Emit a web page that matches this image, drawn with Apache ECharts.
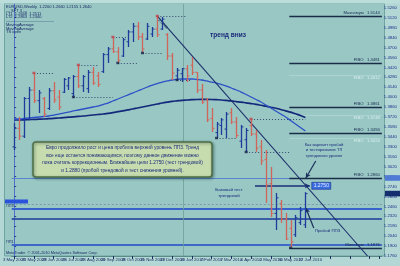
<!DOCTYPE html>
<html>
<head>
<meta charset="utf-8">
<script src="https://cdn.jsdelivr.net/npm/echarts@6/dist/echarts.min.js"></script>
<style>
html,body{margin:0;padding:0;background:#b2d7d4;}
#c{width:400px;height:266px;}
</style>
</head>
<body>
<div id="c"></div>
<script>
// EURUSD weekly bars, 3 May 2009 .. June 2010
const opens = [1.3300,1.3560,1.3450,1.3980,1.4100,1.3950,1.3980,1.3840,1.4090,1.4000,
1.4070,1.4160,1.4050,1.4290,1.4160,1.4120,1.4350,1.4300,1.4360,1.4600,
1.4680,1.4640,1.4580,1.4780,1.4920,1.5000,1.4850,1.4820,1.4890,1.4960,
1.4960,1.4880,1.4580,1.4300,1.4330,1.4400,1.4450,1.4350,1.4100,1.3960,
1.3700,1.3500,1.3600,1.3550,1.3780,1.3650,1.3380,1.3400,1.3600,1.3480,
1.3300,1.3120,1.2780,1.2360,1.2500,1.2280,1.2150,1.2060,1.2230,1.2200];
const highs = [1.3636,1.3720,1.4002,1.4143,1.4341,1.4101,1.4002,1.4129,1.4214,1.4101,
1.4270,1.4284,1.4312,1.4454,1.4312,1.4383,1.4425,1.4355,1.4623,1.4707,
1.4848,1.4707,1.4834,1.4947,1.5046,1.5060,1.4905,1.5046,1.4989,1.5144,
1.5130,1.4905,1.4623,1.4411,1.4411,1.4454,1.4566,1.4355,1.4186,1.3988,
1.3847,1.3650,1.3706,1.3791,1.3847,1.3720,1.3608,1.3565,1.3692,1.3537,
1.3396,1.3255,1.3015,1.2649,1.2550,1.2367,1.2268,1.2339,1.2452,1.2660];
const lows = [1.3255,1.3396,1.3424,1.3678,1.3918,1.3777,1.3720,1.3819,1.3918,1.3819,
1.4059,1.4101,1.4002,1.4129,1.4073,1.4059,1.4172,1.4143,1.4341,1.4482,
1.4623,1.4482,1.4566,1.4707,1.4778,1.4806,1.4623,1.4806,1.4848,1.4848,
1.4947,1.4524,1.4242,1.4242,1.4214,1.4214,1.4312,1.4059,1.3904,1.3650,
1.3509,1.3424,1.3467,1.3424,1.3622,1.3424,1.3283,1.3227,1.3452,1.3227,
1.3044,1.2508,1.2310,1.2127,1.2226,1.1986,1.1876,1.2029,1.2198,1.2155];
const closes = [1.3560,1.3450,1.3980,1.4100,1.3950,1.4060,1.3760,1.4090,1.3960,1.3860,
1.4250,1.4270,1.4290,1.4160,1.4290,1.4350,1.4200,1.4180,1.4600,1.4680,
1.4640,1.4520,1.4810,1.4920,1.5000,1.4850,1.4680,1.5000,1.4960,1.4880,
1.5100,1.4580,1.4340,1.4380,1.4400,1.4300,1.4350,1.4100,1.3930,1.3680,
1.3560,1.3620,1.3680,1.3760,1.3650,1.3460,1.3580,1.3530,1.3480,1.3280,
1.3100,1.2760,1.2360,1.2580,1.2280,1.2000,1.1960,1.2300,1.2400,1.2640];

// moving averages (fast / slow)
const maFast = [1.3692,1.3692,1.3699,1.3706,1.3713,1.3720,1.3727,1.3734,1.3748,1.3762,
1.3776,1.3790,1.3805,1.3819,1.3833,1.3847,1.3861,1.3875,1.3896,1.3917,
1.3946,1.3974,1.4002,1.4030,1.4058,1.4087,1.4115,1.4143,1.4171,1.4192,
1.4213,1.4228,1.4242,1.4249,1.4256,1.4256,1.4256,1.4249,1.4242,1.4228,
1.4213,1.4199,1.4178,1.4157,1.4129,1.4101,1.4072,1.4037,1.4002,1.3967,
1.3931,1.3889,1.3847,1.3805,1.3762,1.3720,1.3671,1.3621,1.3572,1.3523];
const maSlow = [1.3678,1.3678,1.3680,1.3683,1.3686,1.3689,1.3692,1.3696,1.3700,1.3706,
1.3711,1.3717,1.3723,1.3728,1.3734,1.3741,1.3748,1.3755,1.3762,1.3772,
1.3783,1.3795,1.3807,1.3820,1.3833,1.3847,1.3861,1.3875,1.3889,1.3903,
1.3917,1.3929,1.3940,1.3948,1.3955,1.3960,1.3964,1.3967,1.3968,1.3968,
1.3967,1.3964,1.3960,1.3954,1.3947,1.3938,1.3930,1.3920,1.3910,1.3899,
1.3886,1.3872,1.3858,1.3843,1.3826,1.3807,1.3788,1.3765,1.3741,1.3713];

// date ticks, one every 4 weeks
const dateTicks = ['3 May 2009','31 May 2009','28 Jun 2009','26 Jul 2009','23 Aug 2009',
'20 Sep 2009','18 Oct 2009','15 Nov 2009','13 Dec 2009','10 Jan 2010','7 Feb 2010',
'7 Mar 2010','4 Apr 2010','2 May 2010','30 May 2010','27 Jun 2010'];
const slotCount = 75;

// drawn objects
const trendLine = [[29, 1.5144], [71.6, 1.1760]];
const yearSeparator = 34.3;
const fullLevels = [1.2860, 1.2494, 1.2430, 1.2282, 1.1916];
const fiboStart = 55.75;
const fiboDark = [1.5144, 1.4481, 1.3861, 1.3494, 1.2860, 1.1876];
const fiboDarkNames = ['Максимум', 'FIBO', 'FIBO', 'FIBO', 'FIBO', 'Минимум'];
const fiboLight = [1.4312, 1.3748, 1.3424];
const fractalHighs = [4, 13, 20, 29, 48];
const fractalLows = [12, 21, 26, 33, 41, 47, 56];
const dottedSegments = [[4,8,1.4341],[12,20,1.4002],[13,17,1.4454],[20,23,1.4848],[21,25,1.4482],
  [26,30,1.4623],[29,35,1.5144],[33,36,1.4242],[41,45,1.3424],[47,56,1.3227],[48,59,1.3692]];
const testTarget = 1.2750;
const testArrow = [48.8, 59.9];
const breakArrow = [[60.7, 1.2155], [59.1, 1.2437]];
const upperArrow = [[61.1, 1.3100], [59.1, 1.2860]];

const UP = '#1f3c9c', DOWN = '#d2655a';
const FONT = 'Liberation Sans, Arial, sans-serif';
const N = opens.length;
const last = N - 1;

const ohlc = opens.map((o, i) => [i, o, highs[i], lows[i], closes[i]]);
const categories = Array.from({length: slotCount}, (_, k) => k % 4 === 0 ? (dateTicks[k / 4] || '') : '');

const fullStyles = [
  {color:'#4a72d2', width:0.8, type:'solid'},
  {color:'#7d98ac', width:1, type:[2,2]},
  {color:'#3a62cc', width:2, type:'solid'},
  {color:'#1d3a9a', width:1.5, type:'solid'},
  {color:'#4068c8', width:1.8, type:'solid'}
];

const levelMarks = [];
fullLevels.forEach((v, k) => {
  levelMarks.push([{coord:[-0.5, v], lineStyle: fullStyles[k]}, {coord:[74.5, v]}]);
});
fiboDark.forEach((v, k) => {
  levelMarks.push([{coord:[fiboStart, v], lineStyle:{color:'#1a2d48', width:1.3, type:'solid'},
    label:{show:true, position:'insideEndTop', formatter: fiboDarkNames[k] + '   ' + v.toFixed(4),
      fontSize:4.2, color:'#1a2a50', fontFamily:FONT, distance:[2,1]}}, {coord:[74.5, v]}]);
});
fiboLight.forEach(v => {
  levelMarks.push([{coord:[fiboStart, v], lineStyle:{color:'#b9dcd9', width:0.6, type:'solid'},
    label:{show:true, position:'insideEndBottom', formatter: 'FIBO   ' + v.toFixed(4),
      fontSize:4.2, color:'#dcefed', fontFamily:FONT, distance:[2,1]}}, {coord:[74.5, v]}]);
});
dottedSegments.forEach(s => {
  levelMarks.push([{coord:[s[0], s[2]], lineStyle:{color:'#34486e', width:1, type:[1,2]}}, {coord:[s[1], s[2]]}]);
});
levelMarks.push([{coord:[yearSeparator, 1.176], lineStyle:{color:'#6f9e9b', width:0.8, type:'solid'}},
  {coord:[yearSeparator, 1.537]}]);
// annotation arrows
levelMarks.push([{coord:[testArrow[0], testTarget], symbol:'none', lineStyle:{color:'#1a2f7a', width:1.5, type:'solid'}},
  {coord:[testArrow[1], testTarget], symbol:'arrow', symbolSize:[4,5]}]);
levelMarks.push([{coord:breakArrow[0], symbol:'none', lineStyle:{color:'#1a2f5a', width:1.2, type:'solid'}},
  {coord:breakArrow[1], symbol:'arrow', symbolSize:[4,5]}]);
levelMarks.push([{coord:upperArrow[0], symbol:'none', lineStyle:{color:'#1a2f5a', width:1.2, type:'solid'}},
  {coord:upperArrow[1], symbol:'arrow', symbolSize:[4,5]}]);

const chart = echarts.init(document.getElementById('c'), null, {renderer:'canvas', width:400, height:266});

const option = {
  animation: false,
  backgroundColor: '#b2d7d4',
  grid: {left: 6.5, right: 15.5, top: 0, bottom: 10, containLabel: false},
  xAxis: [
    {type:'value', min:-0.5, max:74.5, show:false},
    {type:'category', data: categories, boundaryGap: true, position:'bottom',
      axisLine:{show:true, lineStyle:{color:'#5b8b88', width:1}},
      axisTick:{show:true, interval:3, alignWithLabel:true, length:3, lineStyle:{color:'#1c2f5e'}},
      axisLabel:{interval:0, fontSize:4.3, color:'#1c2f66', margin:2, fontFamily:FONT},
      splitLine:{show:false}}
  ],
  yAxis: {
    type:'value', position:'right', min:1.176, max:1.537, interval:0.014, scale:true,
    axisLine:{show:true, lineStyle:{color:'#4f72c8', width:1}},
    axisTick:{show:true, length:2, lineStyle:{color:'#2a4690'}},
    axisLabel:{fontSize:4.3, color:'#1c2f8a', margin:2, fontFamily:FONT,
      formatter: v => v > 1.53 ? '' : v.toFixed(4)},
    splitLine:{show:false}
  },
  series: [
    {
      name:'levels', type:'line', xAxisIndex:0, data:[], silent:true,
      markLine:{silent:true, symbol:['none','none'], label:{show:false}, data: levelMarks, z:3}
    },
    {
      name:'maSlow', type:'line', xAxisIndex:0, showSymbol:false, smooth:true,
      data: maSlow.map((v, i) => [i, v]), lineStyle:{color:'#13287a', width:1.7}, z:3
    },
    {
      name:'maFast', type:'line', xAxisIndex:0, showSymbol:false, smooth:true,
      data: maFast.map((v, i) => [i, v]), lineStyle:{color:'#2c50c6', width:1.3}, z:3
    },
    {
      name:'trend', type:'line', xAxisIndex:0, showSymbol:false,
      data: trendLine, lineStyle:{color:'#1b2e6a', width:1.1}, z:4
    },
    {
      name:'bars', type:'custom', xAxisIndex:0, data: ohlc, z:5,
      encode:{x:0, y:[1,2,3,4]},
      renderItem: function (params, api) {
        const i = api.value(0);
        const o = api.coord([i, api.value(1)]);
        const h = api.coord([i, api.value(2)]);
        const l = api.coord([i, api.value(3)]);
        const c = api.coord([i, api.value(4)]);
        const col = api.value(4) >= api.value(1) ? UP : DOWN;
        const x = Math.round(h[0]) + 0.5;
        return {type:'group', children:[
          {type:'line', shape:{x1:x, y1:h[1], x2:x, y2:l[1]}, style:{stroke:col, lineWidth:1.3}},
          {type:'line', shape:{x1:x-2, y1:o[1], x2:x, y2:o[1]}, style:{stroke:col, lineWidth:1}},
          {type:'line', shape:{x1:x, y1:c[1], x2:x+2, y2:c[1]}, style:{stroke:col, lineWidth:1}}
        ]};
      }
    },
    {
      name:'fractalHigh', type:'scatter', xAxisIndex:0, symbol:'rect', symbolSize:[3,2.5], z:6,
      data: fractalHighs.map(i => [i, highs[i]]), itemStyle:{color:'#c0404a'}
    },
    {
      name:'fractalLow', type:'scatter', xAxisIndex:0, symbol:'rect', symbolSize:[3,2.5], z:6,
      data: fractalLows.map(i => [i, lows[i]]), itemStyle:{color:'#1a2448'}
    }
  ]
};
chart.setOption(option);

// annotations
const px = p => chart.convertToPixel({xAxisIndex:0, yAxisIndex:0}, p);
const txt = (x, y, s, size, color, extra) => Object.assign({type:'text', x, y, z:120,
  style:Object.assign({text:s, fontSize:size, fill:color, fontFamily:FONT, textVerticalAlign:'middle'}, extra || {})});

const g = [];
// plot area
g.push({type:'rect', shape:{x:4.5, y:3.5, width:380, height:252.5}, z:-100,
  style:{fill:'#98c7c4', stroke:'#6fa3a0', lineWidth:1}});
g.push({type:'rect', shape:{x:0, y:0, width:400, height:3.5}, z:200, style:{fill:'#bcdedb'}});

// legend lines
const legendLines = [
  'EURUSD,Weekly  ' + [opens[last], highs[last], lows[last], closes[last]].map(v => v.toFixed(4)).join(' '),
  '— SFT 3 —',
  'LT1  1.2648  1.2511',
  'LT2  1.2863  1.2340',
  '————————————',
  'MovingAverage',
  'MovingAverage',
  'TS open'
];
[7, 10.5, 13.5, 16.5, 20.5, 25, 28.5, 32].forEach((y, k) => g.push(txt(6, y, legendLines[k], 4, '#1a2a66')));

// trend caption
g.push(txt(228, 35, 'тренд вниз', 6.5, '#1a2a7a', {textAlign:'center', fontWeight:'bold'}));
const t0 = px(trendLine[0]);
g.push({type:'text', x:t0[0] + 3, y:t0[1] + 2, rotation:-0.84, z:120,
  style:{text:'1.5144', fontSize:4, fill:'#1a2a66', fontFamily:FONT}});

// comment box
g.push({type:'rect', shape:{x:33, y:142, width:179, height:35, r:3}, z:110,
  style:{fill:'#c7dcae', stroke:'#4e6e44', lineWidth:1.5, shadowBlur:3, shadowColor:'rgba(0,40,30,0.45)', shadowOffsetX:1, shadowOffsetY:1}});
const boxLines = [
  'Евро продолжило рост и цена пробила верхний уровень ПП3. Тренд',
  'все еще остается понижающимся, поэтому данное движение можно',
  'пока считать коррекционным. Ближайшие цели 1.2750 (тест трендовой)',
  'и 1.2880 (пробой трендовой и тест снижения уровней).'
];
boxLines.forEach((s, k) => g.push(txt(122.5, 148 + k * 7.4, s, 4.8, '#1b2b7c', {textAlign:'center'})));

// right-side notes
['Как вариант пробой', 'и тестирование ТЛ', 'трендового уровня'].forEach((s, k) =>
  g.push(txt(324, 145 + k * 5.2, s, 4.2, '#1b2b7c', {textAlign:'center'})));
['Базовый тест', 'трендовой'].forEach((s, k) =>
  g.push(txt(229, 190 + k * 6, s, 4.4, '#1b2b7c', {textAlign:'center'})));
const b0 = px(breakArrow[0]);
g.push(txt(b0[0] + 1, b0[1] + 3, 'Пробой ПП3', 4.4, '#1b2b7c'));

// 1.2750 target box
const tb = px([testArrow[1] + 0.4, testTarget]);
g.push({type:'rect', shape:{x:tb[0], y:tb[1] - 3.5, width:19, height:7}, z:120,
  style:{fill:'#3c6ee0', stroke:'#1a2f8a', lineWidth:0.6}});
g.push(txt(tb[0] + 9.5, tb[1], testTarget.toFixed(4), 5, '#e6eeff', {textAlign:'center'}));

// pivot tags on the left
const lv = px([0, fullLevels[2]]);
g.push({type:'rect', shape:{x:5, y:lv[1] - 9, width:23, height:4}, z:120, style:{fill:'#2a52dc'}});
g.push(txt(6, lv[1] - 3, 'ПП3', 3.8, '#1a2a66'));
const lv2 = px([0, fullLevels[4]]);
g.push(txt(6, lv2[1] - 2.5, 'ПП1', 3.8, '#1a2a66'));

// price tags on the right axis
const tagA = px([0, fullLevels[0]]);
g.push({type:'rect', shape:{x:385, y:tagA[1] - 2.8, width:15, height:5.6}, z:130, style:{fill:'#4f7bd6'}});
g.push(txt(386, tagA[1], fullLevels[0].toFixed(4), 4.2, '#ffffff'));
const tagB = px([0, closes[last]]);
g.push({type:'rect', shape:{x:385, y:tagB[1] - 2.8, width:15, height:5.6}, z:130, style:{fill:'#142e6e'}});
g.push(txt(386, tagB[1], closes[last].toFixed(4), 4.2, '#ffffff'));

// footer
g.push(txt(6, 252.5, 'MetaTrader  © 2001-2010 MetaQuotes Software Corp.', 3.8, '#1a2a66'));

chart.setOption({graphic: g});
</script>
</body>
</html>
